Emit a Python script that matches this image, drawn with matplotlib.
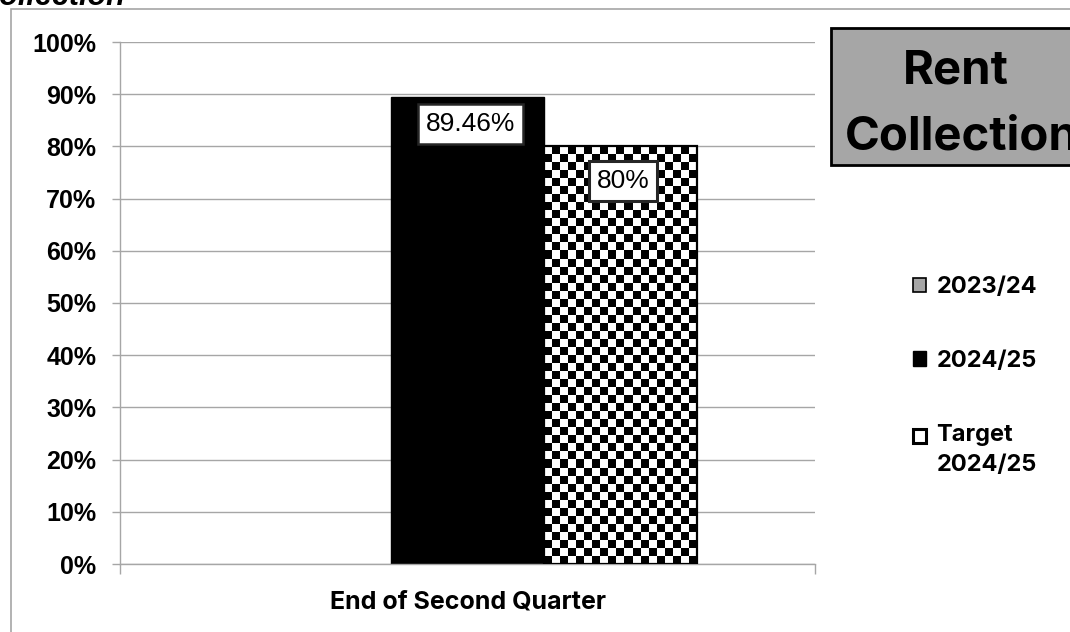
import numpy as np
import matplotlib
matplotlib.use("Agg")
import matplotlib.pyplot as plt
from matplotlib.patches import Rectangle, Patch
from matplotlib.legend_handler import HandlerPatch

# ---- data ----
categories = ["End of Second Quarter"]
series_names = ["2023/24", "2024/25", "Target\n2024/25"]
rent_2023_24 = [np.nan]          # no figure reported for the prior year
rent_2024_25 = [89.46]
target_2024_25 = [80.0]
labels_2024_25 = ["89.46%"]
labels_target = ["80%"]
y_ticks = [0, 10, 20, 30, 40, 50, 60, 70, 80, 90, 100]
y_tick_labels = [f"{t}%" for t in y_ticks]

# ---- styling ----
W, H = 1070, 632
GRID = "#a6a6a6"
GREY_FILL = "#a6a6a6"
SANS = "Liberation Sans"
HEAD = "Inter"

fig = plt.figure(figsize=(W / 100, H / 100), dpi=100)
fig.patch.set_facecolor("white")

# outer chart frame
fig.add_artist(Rectangle((11 / W, -0.1), 1.2, 1 - 9 / H + 0.1,
                         transform=fig.transFigure, fill=False,
                         ec=GRID, lw=1.2))

ax = fig.add_axes([120 / W, 1 - 564 / H, (815 - 120) / W, (564 - 42) / H])

x = np.arange(len(categories))
width = 0.22

b_prev = ax.bar(x - width, rent_2023_24, width, color=GREY_FILL,
                edgecolor="black", lw=1, zorder=2)
b_cur = ax.bar(x, rent_2024_25, width, color="black",
               edgecolor="black", lw=1, zorder=2)
b_tgt = ax.bar(x + width, target_2024_25, width, facecolor="none",
               edgecolor="black", lw=1.6, zorder=3)

ax.set_xlim(-0.5, 0.5)
ax.set_ylim(0, 100)

# checkerboard fill for the target bars, clipped to each bar
CELL_PX = 8
for rect in b_tgt:
    x0, w, h = rect.get_x(), rect.get_width(), rect.get_height()
    p0 = ax.transData.transform((x0, 0))
    p1 = ax.transData.transform((x0 + w, h))
    ncols = max(1, int(round((p1[0] - p0[0]) / CELL_PX)))
    nrows = max(1, int(round((p1[1] - p0[1]) / CELL_PX)))
    checker = np.add.outer(np.arange(nrows)[::-1], np.arange(ncols)) % 2
    im = ax.imshow(checker, cmap="gray", vmin=0, vmax=1,
                   extent=(x0, x0 + w, 0, h), aspect="auto",
                   interpolation="nearest", origin="upper", zorder=2.5)
    im.set_clip_path(rect)

ax.set_xlim(-0.5, 0.5)
ax.set_ylim(0, 100)
ax.set_aspect("auto")

# axes, grid and ticks
ax.set_axisbelow(True)
ax.yaxis.grid(True, color=GRID, lw=1)
for s in ("top", "right"):
    ax.spines[s].set_visible(False)
for s in ("left", "bottom"):
    ax.spines[s].set_color(GRID)
    ax.spines[s].set_linewidth(1)

ax.set_yticks(y_ticks)
ax.set_yticklabels(y_tick_labels, fontfamily=SANS, fontweight="bold",
                   fontsize=18)
ax.tick_params(axis="y", length=6, width=1, color=GRID, pad=11)

ax.set_xticks(x)
ax.set_xticklabels(categories, fontfamily=HEAD, fontweight="bold",
                   fontsize=18)
ax.set_xticks([-0.5, 0.5], minor=True)
ax.tick_params(axis="x", which="major", length=0, pad=19)
ax.tick_params(axis="x", which="minor", length=7, width=1, color=GRID)

# value labels
box = dict(boxstyle="square,pad=0.3", fc="white", ec="#262626", lw=1.8)
for rect, lab in zip(b_cur, labels_2024_25):
    ax.annotate(lab, (rect.get_x() + rect.get_width() / 2, rect.get_height()),
                xytext=(2, -11), textcoords="offset points",
                ha="center", va="top", fontsize=19, fontfamily=SANS,
                bbox=box, zorder=5)
for rect, lab in zip(b_tgt, labels_target):
    ax.annotate(lab, (rect.get_x() + rect.get_width() / 2, rect.get_height()),
                xytext=(2, -16), textcoords="offset points",
                ha="center", va="top", fontsize=19, fontfamily=SANS,
                bbox=dict(box, pad=0.5, lw=2.2), zorder=5)


# legend markers sit beside the first line of a wrapped label
def top_line_patch(dy):
    def make(legend, orig_handle, xdescent, ydescent, width, height, fontsize):
        return Rectangle((-xdescent, -ydescent + dy), width, height)
    return HandlerPatch(patch_func=make)


handles = [
    Patch(facecolor=GREY_FILL, edgecolor="black", lw=1.2),
    Patch(facecolor="black", edgecolor="black", lw=1),
    Patch(facecolor="white", edgecolor="black", lw=2.2),
]
leg = fig.legend(handles, series_names, loc="upper left",
                 bbox_to_anchor=(913 / W, 1 - 276 / H),
                 frameon=False, handlelength=0.55, handleheight=0.55,
                 handletextpad=0.45, labelspacing=2.2, borderpad=0,
                 borderaxespad=0,
                 handler_map={handles[2]: top_line_patch(10)},
                 prop=dict(family=HEAD, weight="bold", size=17))
for t in leg.get_texts():
    t.set_linespacing(1.45)

# title panel
fig.add_artist(Rectangle((831 / W, 1 - 165 / H), (1100 - 831) / W, (165 - 28) / H,
                         transform=fig.transFigure, fc=GREY_FILL,
                         ec="black", lw=2))
fig.text(956 / W, 1 - 83 / H, "Rent", ha="center", va="baseline",
         fontsize=34, fontweight="bold", fontfamily=HEAD)
fig.text(845 / W, 1 - 150 / H, "Collection", ha="left", va="baseline",
         fontsize=34, fontweight="bold", fontfamily=HEAD)

# heading running off the top edge
fig.text(125 / W, 1 - 5 / H, "Rent Collection", ha="right", va="baseline",
         fontsize=22, fontweight="bold", style="italic", fontfamily=SANS)

fig.savefig("out.png", dpi=100, facecolor="white")
